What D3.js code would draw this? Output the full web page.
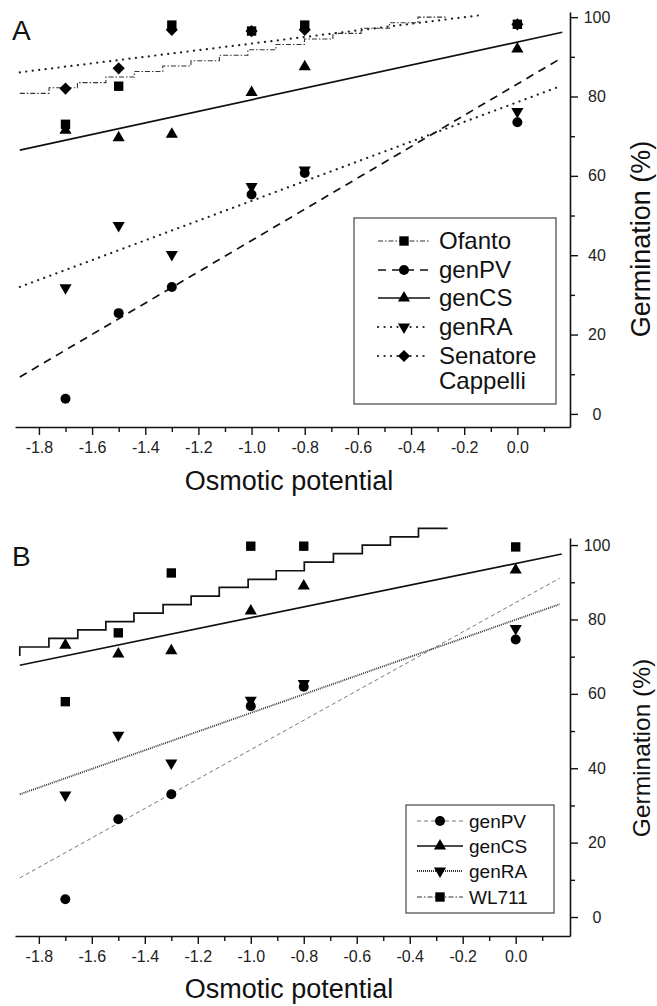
<!DOCTYPE html>
<html>
<head>
<meta charset="utf-8">
<script src="https://cdnjs.cloudflare.com/ajax/libs/d3/7.8.5/d3.min.js"></script>
<style>
  body { margin: 0; background: #fff; }
  svg { display: block; }
</style>
</head>
<body>
<div id="chart"></div>
<script>
// Osmotic potential levels (MPa), shared by both panels
var osmotic = [-1.7, -1.5, -1.3, -1.0, -0.8, 0.0];

// Axis ticks
var xTicks = [-1.8, -1.6, -1.4, -1.2, -1.0, -0.8, -0.6, -0.4, -0.2, 0.0];
var xMinor = [-1.7, -1.5, -1.3, -1.1, -0.9, -0.7, -0.5, -0.3, -0.1, 0.1];
var yTicks = [0, 20, 40, 60, 80, 100];
var yMinor = [10, 30, 50, 70, 90];

// Panel A - germination (%)
var ofantoA = [73, 82.6, 98, 96.5, 98, 98.2];
var genPVA = [3.8, 25.4, 32, 55.3, 60.7, 73.5];
var genCSA = [71.5, 69.6, 70.5, 81, 87.5, 92];
var genRAA = [31.8, 47.5, 40.2, 57.3, 61.5, 76.2];
var cappelliA = [82, 87.1, 96.8, 96.5, 96.8, 98.2];

// Panel A - fitted lines, start and end [x, y]
var fitPVA = [[-1.872, 9.3], [0.166, 89.7]];
var fitCSA = [[-1.872, 66.5], [0.169, 96.2]];
var fitRAA = [[-1.872, 32], [0.154, 82.4]];
var fitCappelliA = [[-1.872, 86.1], [-0.139, 100.5]];
// Ofanto fit is drawn as a staircase: step edges and step levels
var ofantoStepX = [-1.872, -1.762, -1.655, -1.548, -1.441, -1.334, -1.228, -1.121, -1.014, -0.908, -0.801, -0.694, -0.588, -0.481, -0.374, -0.268];
var ofantoStepY = [80.8, 82.2, 83.5, 84.9, 86.3, 87.7, 89.0, 90.4, 91.8, 93.1, 94.5, 95.9, 97.2, 98.6, 100.0];

// Panel B - germination (%)
var genPVB = [4.8, 26.3, 33, 56.7, 61.9, 74.6];
var genCSB = [73.1, 70.7, 71.6, 82.3, 89, 93.3];
var genRAB = [32.8, 48.9, 41.4, 58.3, 62.8, 77.6];
var wl711B = [57.9, 76.4, 92.5, 99.7, 99.7, 99.5];

// Panel B - fitted lines
var fitPVB = [[-1.872, 10.5], [0.166, 91.1]];
var fitCSB = [[-1.872, 67.7], [0.174, 97.6]];
var fitRAB = [[-1.872, 33], [0.166, 84.1]];
var wl711StepX = [-1.872, -1.762, -1.653, -1.547, -1.441, -1.331, -1.225, -1.119, -1.010, -0.904, -0.798, -0.688, -0.579, -0.473, -0.367, -0.257];
var wl711StepY = [72.6, 74.9, 77.2, 79.4, 81.7, 84.0, 86.3, 88.6, 90.8, 93.1, 95.4, 97.7, 100.0, 102.2, 104.5];
var wl711StepStart = 70.2;

var font = "'Liberation Sans', Arial, Helvetica, sans-serif";
var width = 657, height = 1006;

var svg = d3.select('#chart').append('svg')
  .attr('width', width)
  .attr('height', height)
  .style('font-family', font);

// turn step edges + levels into a list of corner points
function stairs(xs, ys, startY) {
  var pts = [];
  if (startY !== undefined) pts.push([xs[0], startY]);
  ys.forEach(function (v, i) {
    pts.push([xs[i], v]);
    pts.push([xs[i + 1], v]);
  });
  return pts;
}

// line styles
var styles = {
  solid: { stroke: '#111', width: 1.7, dash: null, cap: 'butt' },
  dash: { stroke: '#111', width: 1.7, dash: '8,6', cap: 'butt' },
  dot: { stroke: '#222', width: 2.2, dash: '0.1,6.4', cap: 'round' },
  dashdot: { stroke: '#333', width: 1.1, dash: '5,2,1.5,2', cap: 'butt' },
  thinDash: { stroke: '#777', width: 1, dash: '4,3', cap: 'butt' },
  denseDot: { stroke: '#333', width: 1.8, dash: '1,1', cap: 'butt' },
  stepSolid: { stroke: '#111', width: 1.7, dash: null, cap: 'butt' }
};

function applyStyle(sel, st) {
  sel.attr('fill', 'none')
    .attr('stroke', st.stroke)
    .attr('stroke-width', st.width)
    .attr('stroke-dasharray', st.dash)
    .attr('stroke-linecap', st.cap);
}

// marker shapes
function markerPath(shape) {
  if (shape === 'square') return d3.symbol().type(d3.symbolSquare).size(88)();
  if (shape === 'circle') return d3.symbol().type(d3.symbolCircle).size(78)();
  if (shape === 'diamond') return d3.symbol().type(d3.symbolSquare).size(74)();
  return d3.symbol().type(d3.symbolTriangle).size(64)();
}
function markerRotate(shape) {
  if (shape === 'down') return ' rotate(180)';
  if (shape === 'diamond') return ' rotate(45)';
  return '';
}

function drawPanel(p) {
  var x = d3.scaleLinear().domain(p.xDomain).range([15, 570]);
  var y = d3.scaleLinear().domain(p.yDomain).range([p.bottom, p.top]);
  var g = svg.append('g');

  var line = d3.line()
    .x(function (d) { return x(d[0]); })
    .y(function (d) { return y(d[1]); });

  // fitted lines
  p.series.forEach(function (s) {
    var path = g.append('path').datum(s.fit).attr('d', line);
    applyStyle(path, styles[s.line]);
  });

  // data points
  p.series.slice().reverse().forEach(function (s) {
    g.append('g').selectAll('path')
      .data(s.values)
      .enter()
      .append('path')
      .attr('d', markerPath(s.shape))
      .attr('fill', '#000')
      .attr('transform', function (d, i) {
        return 'translate(' + x(osmotic[i]) + ',' + y(d) + ')' + markerRotate(s.shape);
      });
  });

  // x axis (major + minor ticks)
  var xAxis = g.append('g')
    .attr('transform', 'translate(0,' + p.bottom + ')')
    .call(d3.axisBottom(x).tickValues(xTicks).tickSize(8).tickSizeOuter(0).tickPadding(7)
      .tickFormat(function (d) { return d.toFixed(1); }));
  g.append('g')
    .attr('transform', 'translate(0,' + p.bottom + ')')
    .call(d3.axisBottom(x).tickValues(xMinor).tickSize(5).tickFormat(''))
    .call(function (a) { a.select('.domain').remove(); });

  // y axis on the right
  var yAxis = g.append('g')
    .attr('transform', 'translate(570,0)')
    .call(d3.axisRight(y).tickValues(yTicks).tickSize(8).tickSizeOuter(0));
  yAxis.selectAll('.tick text').attr('x', 27).attr('text-anchor', 'middle');
  g.append('g')
    .attr('transform', 'translate(570,0)')
    .call(d3.axisRight(y).tickValues(yMinor).tickSize(5).tickFormat(''))
    .call(function (a) { a.select('.domain').remove(); });

  g.selectAll('.domain').attr('stroke', '#111').attr('stroke-width', 1.6);
  g.selectAll('.tick line').attr('stroke', '#111').attr('stroke-width', 1.4);
  g.selectAll('.tick text').attr('fill', '#222');
  [xAxis, yAxis].forEach(function (a) {
    a.attr('font-family', font).attr('font-size', 16);
  });

  // titles
  g.append('text')
    .attr('x', 12).attr('y', p.top + 28)
    .attr('font-size', 28).attr('fill', '#111')
    .text(p.label);
  g.append('text')
    .attr('x', 289).attr('y', p.xTitleY)
    .attr('text-anchor', 'middle')
    .attr('font-size', 27).attr('fill', '#111')
    .text('Osmotic potential');
  g.append('text')
    .attr('transform', 'translate(641,' + p.yTitleY + ') rotate(-90)')
    .attr('text-anchor', 'middle')
    .attr('dy', '0.35em')
    .attr('font-size', p.yTitleSize).attr('fill', '#111')
    .text('Germination (%)');

  // legend
  var lg = p.legend;
  g.append('rect')
    .attr('x', lg.x).attr('y', lg.y)
    .attr('width', lg.w).attr('height', lg.h)
    .attr('fill', '#fff')
    .attr('stroke', '#444').attr('stroke-width', 1.2);
  p.legendOrder.forEach(function (s, i) {
    var ry = lg.rows[i];
    var seg = g.append('line')
      .attr('x1', lg.lineX[0]).attr('x2', lg.lineX[1])
      .attr('y1', ry).attr('y2', ry);
    applyStyle(seg, styles[s.legendLine || s.line]);
    g.append('path')
      .attr('d', markerPath(s.shape))
      .attr('fill', '#000')
      .attr('transform', 'translate(' + lg.markX + ',' + ry + ')' + markerRotate(s.shape));
    var t = g.append('text')
      .attr('x', lg.textX).attr('y', ry)
      .attr('font-size', lg.size).attr('fill', '#111');
    var parts = s.name.split('\n');
    parts.forEach(function (txt, j) {
      t.append('tspan').attr('x', lg.textX).attr('dy', j === 0 ? '0.35em' : '1.02em').text(txt);
    });
  });
}

// Panel A
var seriesA = [
  { name: 'Ofanto', values: ofantoA, shape: 'square', line: 'dashdot', fit: stairs(ofantoStepX, ofantoStepY) },
  { name: 'genPV', values: genPVA, shape: 'circle', line: 'dash', fit: fitPVA },
  { name: 'genCS', values: genCSA, shape: 'up', line: 'solid', fit: fitCSA },
  { name: 'genRA', values: genRAA, shape: 'down', line: 'dot', fit: fitRAA },
  { name: 'Senatore\nCappelli', values: cappelliA, shape: 'diamond', line: 'dot', fit: fitCappelliA }
];
drawPanel({
  label: 'A',
  xDomain: [-1.89, 0.198],
  yDomain: [-3.3, 101.3],
  top: 12, bottom: 427,
  xTitleY: 490, yTitleY: 239, yTitleSize: 27,
  series: seriesA,
  legendOrder: seriesA,
  legend: { x: 354, y: 218, w: 202, h: 186, rows: [241, 270, 298, 327, 356], lineX: [378, 430], markX: 404, textX: 439, size: 24 }
});

// Panel B
var seriesB = [
  { name: 'genPV', values: genPVB, shape: 'circle', line: 'thinDash', fit: fitPVB },
  { name: 'genCS', values: genCSB, shape: 'up', line: 'solid', fit: fitCSB },
  { name: 'genRA', values: genRAB, shape: 'down', line: 'denseDot', fit: fitRAB },
  { name: 'WL711', values: wl711B, shape: 'square', line: 'stepSolid', legendLine: 'dashdot', fit: stairs(wl711StepX, wl711StepY, wl711StepStart) }
];
drawPanel({
  label: 'B',
  xDomain: [-1.89, 0.205],
  yDomain: [-5.1, 101.9],
  top: 538, bottom: 936,
  xTitleY: 998, yTitleY: 748, yTitleSize: 24.5,
  series: seriesB,
  legendOrder: seriesB,
  legend: { x: 406, y: 805, w: 148, h: 108, rows: [821, 846, 871, 897], lineX: [417, 463], markX: 440, textX: 469, size: 19 }
});
</script>
</body>
</html>
